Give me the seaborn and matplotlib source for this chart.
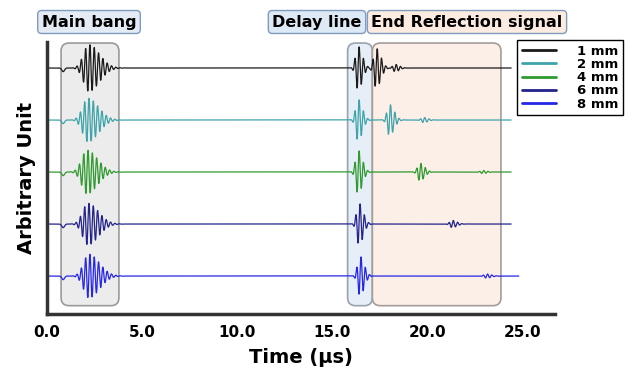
import numpy as np
import pandas as pd
import matplotlib.pyplot as plt
import seaborn as sns
from matplotlib.patches import FancyBboxPatch

# values
thickness = ["1 mm", "2 mm", "4 mm", "6 mm", "8 mm"]
colors = ["#1a1a1a", "#3fa3aa", "#2f9a2f", "#23238a", "#2626e6"]
bang_time = [2.2, 2.15, 2.1, 2.15, 2.2]        # main bang centre (us)
bang_amp = [0.45, 0.42, 0.42, 0.40, 0.42]
delay_time = [16.35, 16.35, 16.35, 16.4, 16.45]  # delay-line echo (us)
delay_amp = [0.42, 0.40, 0.42, 0.40, 0.38]
end_time = [17.3, 18.0, 19.6, 21.3, 23.1]        # end reflection (us)
end_amp = [0.38, 0.30, 0.17, 0.07, 0.04]
echo2_time = [18.3, 19.8, 22.9, 24.0, 24.0]      # second, weaker reflection
echo2_amp = [0.07, 0.05, 0.03, 0.0, 0.0]
trace_end = [24.4, 24.4, 24.4, 24.4, 24.8]
x_ticks = [0.0, 5.0, 10.0, 15.0, 20.0, 25.0]

FREQ = 4.4  # MHz, carrier of the echoes
DT = 0.005


def burst(t, t0, amp, s_left, s_right):
    s = np.where(t < t0, s_left, s_right)
    env = np.exp(-0.5 * ((t - t0) / s) ** 2)
    return amp * env * np.sin(2 * np.pi * FREQ * (t - t0))


frames = []
for i, name in enumerate(thickness):
    t = np.arange(0, trace_end[i], DT)
    y = -0.07 * np.exp(-0.5 * ((t - 0.85) / 0.07) ** 2)
    y += burst(t, bang_time[i], bang_amp[i], 0.28, 0.55)
    y += burst(t, delay_time[i], delay_amp[i], 0.13, 0.22)
    y += burst(t, end_time[i], end_amp[i], 0.13, 0.24)
    y += burst(t, echo2_time[i], echo2_amp[i], 0.13, 0.22)
    frames.append(pd.DataFrame({"time": t, "signal": y - i, "thickness": name}))
df = pd.concat(frames, ignore_index=True)

sns.set_style("white")
plt.rcParams["font.family"] = ["DejaVu Sans"]
plt.rcParams["text.color"] = "black"
plt.rcParams["axes.labelcolor"] = "black"
plt.rcParams["xtick.color"] = "black"

fig = plt.figure(figsize=(6.25, 3.74), dpi=100)
ax = fig.add_axes([47 / 625, 60 / 374, 508 / 625, 272 / 374])

ymin, ymax = -4.73, 0.5
xmax = 26.7
asp = (508 / xmax) / (272 / (ymax - ymin))  # px per x unit / px per y unit


def region(x0, x1, fc, ec):
    box = FancyBboxPatch((x0, -4.57), x1 - x0, 5.05,
                         boxstyle="round,pad=0,rounding_size=0.42",
                         mutation_aspect=asp, fc=fc, ec=ec, lw=1.2, zorder=0)
    ax.add_patch(box)


region(0.74, 3.78, "#ececec", "#9a9a9a")
region(15.8, 17.1, "#e6eef8", "#9aa3ad")
region(17.1, 23.86, "#fcefe7", "#a39d99")

sns.lineplot(data=df, x="time", y="signal", hue="thickness", palette=colors,
             estimator=None, sort=False, lw=0.9, ax=ax)

ax.set_xlim(0, xmax)
ax.set_ylim(ymin, ymax)
ax.set_xticks(x_ticks)
ax.set_xticklabels([f"{v:.1f}" for v in x_ticks], fontsize=11, fontweight="bold")
ax.set_yticks([])
ax.tick_params(axis="x", length=0, pad=8, labelcolor="black")
for side in ["top", "right"]:
    ax.spines[side].set_visible(False)
for side in ["left", "bottom"]:
    ax.spines[side].set_color("#333333")
    ax.spines[side].set_linewidth(2.5)
ax.set_xlabel("Time (µs)", fontsize=14, fontweight="bold", labelpad=6, color="black")
ax.set_ylabel("Arbitrary Unit", fontsize=14, fontweight="bold", labelpad=8, color="black")

handles, labels = ax.get_legend_handles_labels()
ax.legend_.remove()
leg = fig.legend(handles, labels, loc="upper left", bbox_to_anchor=(517 / 625, 1 - 40 / 374),
                 frameon=True, fancybox=False, edgecolor="black", framealpha=1,
                 fontsize=9.5, labelspacing=0.02, handlelength=2.6, handletextpad=1.6,
                 borderpad=0.35, borderaxespad=0)
leg.get_frame().set_linewidth(1.0)
for line in leg.get_lines():
    line.set_linewidth(2)
for txt in leg.get_texts():
    txt.set_fontweight("bold")
    txt.set_color("black")

label_style = dict(fontsize=11.5, fontweight="bold", ha="center", va="center", color="black")
fig.text(89 / 625, 1 - 22 / 374, "Main bang",
         bbox=dict(boxstyle="round,pad=0.25", fc="#e4ebf4", ec="#7f9bbd", lw=1), **label_style)
fig.text(317 / 625, 1 - 22 / 374, "Delay line",
         bbox=dict(boxstyle="round,pad=0.25", fc="#dde9f5", ec="#7f9bbd", lw=1), **label_style)
fig.text(467 / 625, 1 - 22 / 374, "End Reflection signal",
         bbox=dict(boxstyle="round,pad=0.25", fc="#fcebe0", ec="#7f9bbd", lw=1), **label_style)

plt.savefig("out.png", dpi=100)
plt.close()
